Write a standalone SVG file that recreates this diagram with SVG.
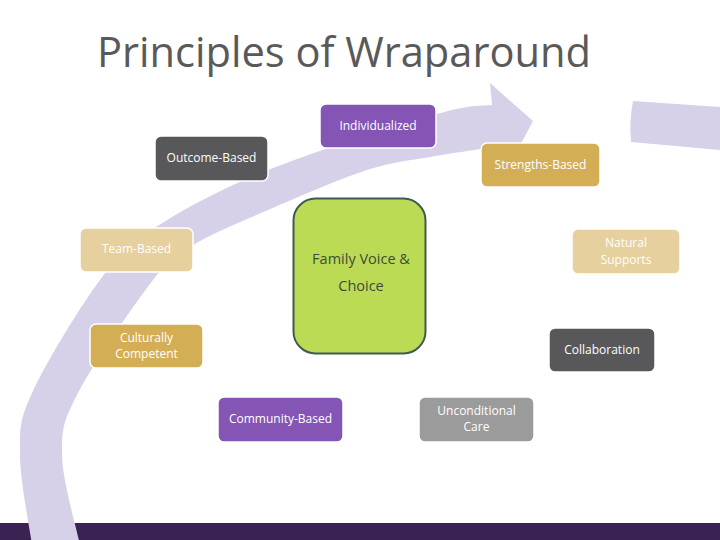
<svg xmlns="http://www.w3.org/2000/svg" width="720" height="540" viewBox="0 0 720 540">
<style>
.box{stroke:#ffffff;stroke-width:1.5}
.t{font-family:"Open Sans","Liberation Sans",sans-serif;font-size:12px;fill:#ffffff;text-anchor:middle}
.purple{fill:#8455b5}
.dark{fill:#58585a}
.gold{fill:#d4ae55}
.tan{fill:#e5d09e}
.grey{fill:#9b9b9b}
.band{fill:#d6d1e8}
</style>
<rect x="0" y="0" width="720" height="540" fill="#ffffff"/>
<rect x="0" y="523" width="720" height="17" fill="#3a2352"/>
<g id="arrows">
<path class="band" d="M32,545 C30,530 20,480.3 20,455 C20,429.7 18.7,422.2 32,393 C45.3,363.8 79.3,307.7 100,280 C120.7,252.3 128,245.3 156,227 C184,208.7 221.2,188.8 268,170 C314.8,151.2 399.7,124.8 437,114 C474.3,103.2 482.8,106.5 492,105 L490,83 L533,121 L507,170 L494,147 C483.3,148.7 451.2,153.2 430,157 C408.8,160.8 392.8,161.7 367,170 C341.2,178.3 304,194.5 275,207 C246,219.5 213.3,232.8 193,245 C172.7,257.2 172.2,255.3 153,280 C133.8,304.7 93.2,363.8 78,393 C62.8,422.2 61.7,429.7 62,455 C62.3,480.3 77,530 80,545 Z"/>
<path class="band" d="M633,101 L720,107 L720,150 L631,142 Q629,122 633,101 Z"/>
</g>
<text x="97" y="67" font-family="Open Sans, Liberation Sans, sans-serif" font-size="42" fill="#595959" textLength="494" lengthAdjust="spacingAndGlyphs">Principles of Wraparound</text>
<g id="individualized">
<rect class="box purple" x="320" y="104" width="116" height="44" rx="6"/>
<text class="t" x="378" y="130">Individualized</text>
</g>
<g id="outcome-based">
<rect class="box dark" x="155" y="136" width="113" height="45" rx="6"/>
<text class="t" x="211.5" y="162">Outcome-Based</text>
</g>
<g id="strengths-based">
<rect class="box gold" x="481" y="143" width="119" height="44" rx="6"/>
<text class="t" x="540.5" y="169">Strengths-Based</text>
</g>
<g id="team-based">
<rect class="box tan" x="80" y="228" width="113" height="44" rx="6"/>
<text class="t" x="136.5" y="253">Team-Based</text>
</g>
<g id="family-voice">
<rect x="293.5" y="198.5" width="132" height="155" rx="22" fill="#bbdb55" stroke="#3e5a52" stroke-width="2"/>
<text x="361" y="264" font-family="Open Sans, Liberation Sans, sans-serif" font-size="14.5" fill="#3d4b3a" text-anchor="middle">Family Voice &amp;</text>
<text x="361" y="291" font-family="Open Sans, Liberation Sans, sans-serif" font-size="14.5" fill="#3d4b3a" text-anchor="middle">Choice</text>
</g>
<g id="natural-supports">
<rect class="box tan" x="572" y="229" width="108" height="45" rx="6"/>
<text class="t" x="626" y="247">Natural</text>
<text class="t" x="626" y="264">Supports</text>
</g>
<g id="culturally-competent">
<rect class="box gold" x="90" y="324" width="113" height="44" rx="6"/>
<text class="t" x="146.5" y="342">Culturally</text>
<text class="t" x="146.5" y="358">Competent</text>
</g>
<g id="collaboration">
<rect class="box dark" x="549" y="328" width="106" height="44" rx="6"/>
<text class="t" x="602" y="354">Collaboration</text>
</g>
<g id="community-based">
<rect class="box purple" x="218" y="397" width="125" height="45" rx="6"/>
<text class="t" x="280.5" y="423">Community-Based</text>
</g>
<g id="unconditional-care">
<rect class="box grey" x="419" y="397" width="115" height="45" rx="6"/>
<text class="t" x="476.5" y="415">Unconditional</text>
<text class="t" x="476.5" y="431">Care</text>
</g>
</svg>
